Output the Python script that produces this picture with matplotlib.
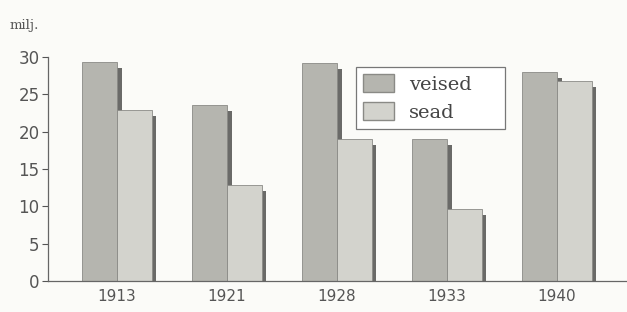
import matplotlib
matplotlib.use('Agg')
import matplotlib.pyplot as plt
import numpy as np

# data (millions)
years = ['1913', '1921', '1928', '1933', '1940']
veised = [29.3, 23.6, 29.2, 19.0, 28.0]
sead = [22.9, 12.9, 19.0, 9.6, 26.8]
series_names = ['veised', 'sead']
y_ticks = [0, 5, 10, 15, 20, 25, 30]

c_veised = '#b5b5af'
c_sead = '#d3d3cd'
c_shadow = '#6a6a68'
c_edge = '#8a8a86'
c_text = '#555555'

fig = plt.figure(figsize=(6.27, 3.12), dpi=100)
fig.patch.set_facecolor('#fbfbf8')
ax = fig.add_axes([48 / 627, 31 / 312, 579 / 627, 224 / 312])
ax.set_facecolor('#fbfbf8')

x = np.arange(len(years))
w = 0.315
sw = 0.042   # shadow width
drop = 0.8   # shadow starts a little below the bar top

for vals, off, col in [(veised, -w / 2, c_veised), (sead, w / 2, c_sead)]:
    vals = np.array(vals)
    # shadow to the right of each bar
    ax.bar(x + off + w / 2 + sw / 2, vals - drop, width=sw, color=c_shadow,
           zorder=1, linewidth=0)
    ax.bar(x + off, vals, width=w, color=col, edgecolor=c_edge,
           linewidth=0.6, zorder=2)

ax.set_xlim(-0.627, 4.636)
ax.set_ylim(0, 30)
ax.set_yticks(y_ticks)
ax.set_xticks(x)
ax.set_xticklabels(years)
ax.tick_params(axis='y', direction='out', length=4, width=0.8, color=c_text,
               labelsize=12, labelcolor=c_text, pad=2)
ax.tick_params(axis='x', length=0, labelsize=11, labelcolor=c_text, pad=6)

for s in ['top', 'right']:
    ax.spines[s].set_visible(False)
for s in ['left', 'bottom']:
    ax.spines[s].set_color('#666666')
    ax.spines[s].set_linewidth(0.9)

fig.text(10 / 627, 1 - 25 / 312, 'milj.', fontsize=9.5, family='DejaVu Serif',
         color=c_text, va='center', ha='left')

handles = [plt.Rectangle((0, 0), 1, 1, facecolor=c_veised, edgecolor=c_edge),
           plt.Rectangle((0, 0), 1, 1, facecolor=c_sead, edgecolor=c_edge)]
lx0 = (356 - 48) / 579
lw = (505 - 356) / 579
ly1 = (281 - 67) / 224
lh = (128 - 67) / 224
leg = ax.legend(handles, series_names, loc='upper left', mode='expand',
                bbox_to_anchor=(lx0, ly1 - lh, lw, lh),
                fancybox=False, framealpha=1,
                edgecolor='#777777', handlelength=1.55, handleheight=1.05,
                labelspacing=0.42, borderpad=0.38, handletextpad=0.8,
                borderaxespad=0,
                prop={'family': 'DejaVu Serif', 'size': 14})
leg.get_frame().set_facecolor('white')
leg.get_frame().set_linewidth(0.9)
for t in leg.get_texts():
    t.set_color('#444444')

plt.savefig('out.png', dpi=100, facecolor=fig.get_facecolor())
plt.close()
